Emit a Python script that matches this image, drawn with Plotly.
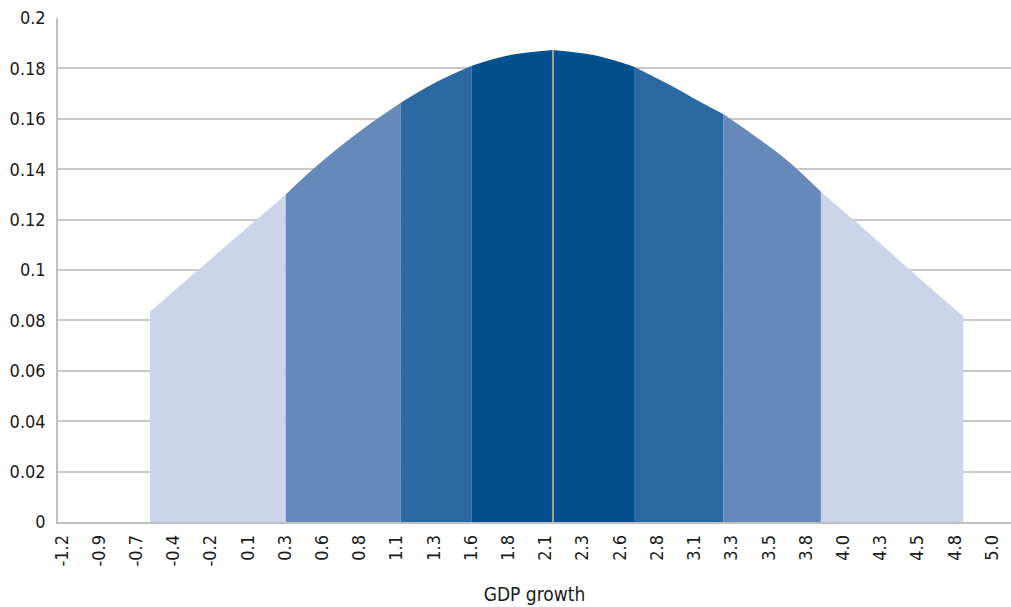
import plotly.graph_objects as go

# GDP growth density (probability)
growth = [-0.607, -0.150, 0.305, 0.468, 0.670, 0.871, 1.078, 1.320, 1.555,
          1.812, 2.101, 2.372, 2.645, 2.887, 3.066, 3.245, 3.447, 3.671,
          3.901, 4.118, 4.499, 4.858]
density = [0.0835, 0.1068, 0.1300, 0.1390, 0.1490, 0.1580, 0.1664, 0.1747, 0.1811,
           0.1853, 0.1873, 0.1853, 0.1807, 0.1734, 0.1675, 0.1619, 0.1536, 0.1437,
           0.1311, 0.1200, 0.1000, 0.0815]

# Edges of the shaded probability bands, left to right
band_edges = [-0.607, 0.305, 1.078, 1.555, 2.101, 2.645, 3.245, 3.901, 4.858]
band_colors = ["#CBD4E8", "#6689BC", "#2B69A4", "#02508E",
               "#02508E", "#2B69A4", "#6689BC", "#CBD4E8"]

# Central projection marker
central_x = 2.101
central_y = 0.1873

# Category axis ticks
tick_positions = [-1.2, -0.95, -0.7, -0.45, -0.2, 0.05, 0.3, 0.55, 0.8, 1.05,
                  1.3, 1.55, 1.8, 2.05, 2.3, 2.55, 2.8, 3.05, 3.3, 3.55,
                  3.8, 4.05, 4.3, 4.55, 4.8, 5.05]
tick_labels = ["-1.2", "-0.9", "-0.7", "-0.4", "-0.2", "0.1", "0.3", "0.6", "0.8", "1.1",
               "1.3", "1.6", "1.8", "2.1", "2.3", "2.6", "2.8", "3.1", "3.3", "3.5",
               "3.8", "4.0", "4.3", "4.5", "4.8", "5.0"]

y_ticks = [0, 0.02, 0.04, 0.06, 0.08, 0.1, 0.12, 0.14, 0.16, 0.18, 0.2]
y_labels = ["0", "0.02", "0.04", "0.06", "0.08", "0.1", "0.12", "0.14", "0.16", "0.18", "0.2"]

FONT = "Liberation Sans Narrow, DejaVu Sans Condensed, Arial Narrow, sans-serif"

fig = go.Figure()

for i, color in enumerate(band_colors):
    lo, hi = band_edges[i], band_edges[i + 1]
    xs = [x for x in growth if lo - 1e-9 <= x <= hi + 1e-9]
    ys = [y for x, y in zip(growth, density) if lo - 1e-9 <= x <= hi + 1e-9]
    fig.add_trace(go.Scatter(
        x=xs, y=ys, mode="lines", fill="tozeroy",
        fillcolor=color,
        line=dict(width=0, shape="spline", smoothing=1.0, color=color),
        hoverinfo="skip", showlegend=False,
    ))

fig.add_trace(go.Scatter(
    x=[central_x, central_x], y=[0, central_y], mode="lines",
    line=dict(color="#A0A0A0", width=2),
    hoverinfo="skip", showlegend=False,
))

fig.update_layout(
    width=1011, height=607,
    margin=dict(l=58, r=0, t=18, b=85),
    paper_bgcolor="white", plot_bgcolor="white",
    font=dict(family=FONT, size=18, color="#1a1a1a"),
    xaxis=dict(
        range=[-1.225, 5.178],
        tickmode="array", tickvals=tick_positions, ticktext=tick_labels,
        tickangle=-90, ticklabelstandoff=4,
        showgrid=False, zeroline=False,
        showline=True, linecolor="#BFBFBF", linewidth=1.5,
        ticks="",
        title=dict(text="GDP growth", font=dict(size=19), standoff=22),
        automargin=False,
    ),
    yaxis=dict(
        range=[0, 0.2], tickmode="array",
        tickvals=y_ticks, ticktext=y_labels,
        showgrid=True, gridcolor="#C8C8C8", gridwidth=1.5,
        zeroline=False,
        showline=True, linecolor="#BFBFBF", linewidth=1.5,
        ticks="", ticklabelstandoff=7,
        automargin=False,
    ),
)

fig.write_html("out.html")
